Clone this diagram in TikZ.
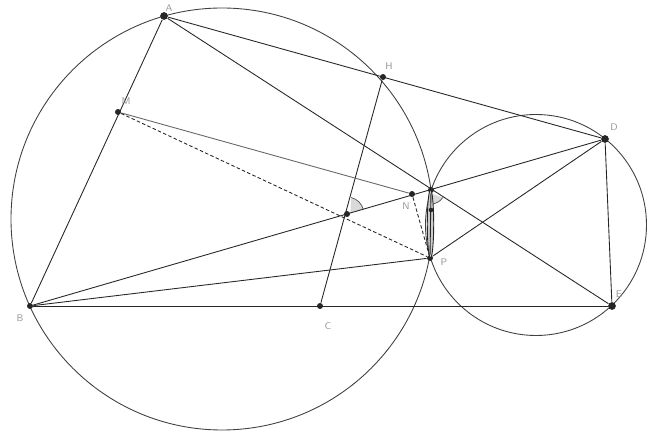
\documentclass[tikz,border=0pt]{standalone}
\usepackage{amsmath}
\usepackage{tikz}
\usetikzlibrary{arrows}
\tikzset{>=stealth,font=\fontsize{5.5}{6.5}\selectfont\sffamily}
\tikzset{pt/.style={circle,inner sep=0pt,minimum size=3.4pt,fill=black!85},
  bigpt/.style={pt,minimum size=4.4pt},
  lbl/.style={text=black!40,inner sep=0pt},
  dsh/.style={dash pattern=on 2pt off 1.3pt}}

\begin{document}
\begin{tikzpicture}[x=0.02cm,y=0.02cm,line width=0.5pt,draw=black!85]
\useasboundingbox (0,0) rectangle (650,-435);
% the two circles
\coordinate (O1) at (222,-219);
\coordinate (O2) at (536,-225);
\draw[black!75] (O1) circle (211);
\draw[black!75] (O2) circle (110.5);
% points
\node[bigpt] (A) at (164,-16) {};
\node[pt] (B) at (30,-306) {};
\node[pt] (C) at (320,-306) {};
\node[bigpt] (D) at (605,-139) {};
\node[bigpt] (E) at (612,-306) {};
\node[pt] (H) at (383,-77) {};
\node[pt] (M) at (118,-112) {};
\node[pt] (N) at (412,-194) {};
\node[pt] (X) at (431,-190) {};
\node[pt] (P) at (430,-258) {};
\node[pt] (Q) at (347,-214) {};
% angle marks
\fill[gray!30] (Q) -- ++(16.2:17) arc (16.2:75.3:17) -- cycle;
\draw[black!70,line width=0.4pt] (Q) ++(16.2:17) arc (16.2:75.3:17);
\fill[gray!30] (X) -- ++(-90:14) arc (-90:-32.7:14) -- cycle;
\draw[black!70,line width=0.4pt] (X) ++(-90:14) arc (-90:-32.7:14);
% highlighted chord
\draw[fill=gray!40,line width=0.5pt] (430.5,-224) ellipse (3.2 and 34);
% lines
\path (A) edge (B) edge (D) edge (E);
\path (B) edge (D) edge (P) edge (E);
\path (P) edge (D) edge (X);
\path (D) edge (E);
\path (C) edge (H);
\path (M) edge[black!60] (N);
\path (M) edge[dsh] (P);
\path (N) edge[dsh] (P);
\node[pt,minimum size=2.6pt] (R) at (431,-210) {};
% labels
\node[lbl] (lA) at (169,-8) {A};
\node[lbl] (lB) at (20,-318) {B};
\node[lbl] (lC) at (328,-326) {C};
\node[lbl] (lD) at (614,-127) {D};
\node[lbl] (lE) at (619,-294) {E};
\node[lbl] (lH) at (389,-66) {H};
\node[lbl] (lM) at (126,-101) {M};
\node[lbl] (lN) at (406,-206) {N};
\node[lbl] (lP) at (444,-262) {P};
\end{tikzpicture}
\end{document}
